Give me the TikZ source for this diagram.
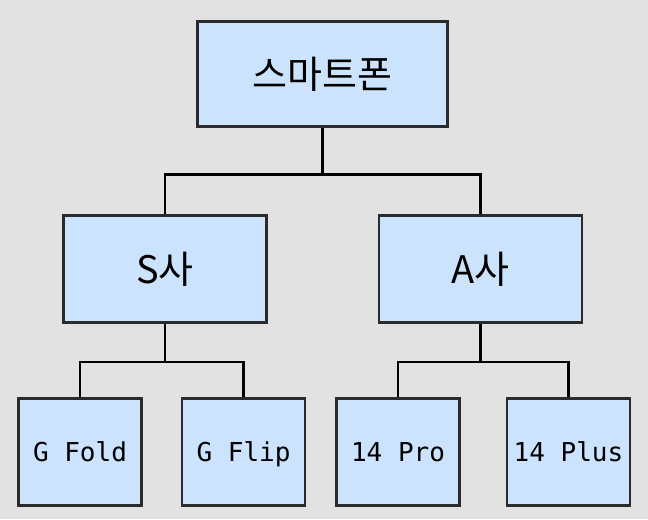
\documentclass[tikz,border=0pt]{standalone}
\usepackage{fontspec}
\setmonofont{DejaVu Sans Mono}
\newfontfamily\kofont{Noto Sans CJK KR}
\usepackage[svgnames]{xcolor}
\usepackage{tikz}
\usetikzlibrary{positioning, calc}
\definecolor{boxblue}{HTML}{CCE3FD}
\definecolor{backgray}{HTML}{E2E2E2}
\definecolor{boxline}{HTML}{2B2B2B}
\def\raster{0.025cm}
\tikzset{
    tbox/.style={draw=boxline, fill=boxblue, line width=2pt, inner sep=0pt,
        font=\kofont\fontsize{27}{30}\selectfont},
    mbox/.style={tbox, minimum width=123*\raster, minimum height=107*\raster,
        text height=13.5pt, text depth=0pt,
        font=\ttfamily\fontsize{18.5}{20}\selectfont},
    link/.style={black, line width=2pt}
}

\begin{document}
\begin{tikzpicture}
    % background
    \fill[backgray] (0,0) rectangle (648*\raster, 519*\raster);
    \useasboundingbox (0,0) rectangle (648*\raster, 519*\raster);

    % top and middle boxes
    \node[tbox, minimum width=250*\raster, minimum height=105*\raster]
        (top) at (322.5*\raster, 445*\raster) {스마트폰};
    \node[tbox, minimum width=203*\raster, minimum height=107*\raster]
        (sa) at (165*\raster, 250*\raster) {S사};
    \node[tbox, minimum width=203*\raster, minimum height=107*\raster]
        (aa) at (480.5*\raster, 250*\raster) {A사};

    % bottom boxes
    \foreach \name/\x/\label in {
        gfold/80/G Fold,
        gflip/243.5/G Flip,
        pro/398/14 Pro,
        plus/568.5/14 Plus}{

        \node[mbox] (\name) at (\x*\raster, 67*\raster) {\label};
    }

    % connectors
    \foreach \from/\to/\drop in {
        top/sa/47,
        top/aa/47,
        sa/gfold/38,
        sa/gflip/38,
        aa/pro/38,
        aa/plus/38}{

        \draw[link] (\from.south) -- ++(0, -\drop*\raster) -| (\to.north);
    }
\end{tikzpicture}
\end{document}
